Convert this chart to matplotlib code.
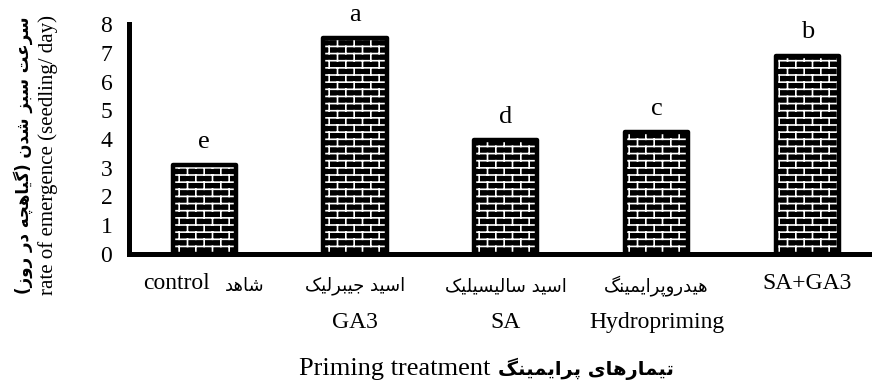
import matplotlib
matplotlib.use("Agg")

import numpy as np
import matplotlib.pyplot as plt
from matplotlib import hatch as mhatch
from matplotlib.path import Path

# ── data ──────────────────────────────────────────────────────────────────────
tick_top_en = ["control", "", "", "", "SA+GA3"]
tick_top_fa = ["شاهد", "اسید جیبرلیک", "اسید سالیسیلیک", "هیدروپرایمینگ", ""]
tick_bottom_en = ["", "GA3", "SA", "Hydropriming", ""]
emergence_rate = [3.1, 7.5, 3.95, 4.25, 6.9]
groups = ["e", "a", "d", "c", "b"]
y_ticks = [0, 1, 2, 3, 4, 5, 6, 7, 8]

ylabel_fa = "سرعت سبز شدن (گیاهچه در روز)"
ylabel_en = "rate of emergence (seedling/ day)"
xlabel_fa = "تیمارهای پرایمینگ"
xlabel_en = "Priming treatment"

SERIF = ["Liberation Serif", "DejaVu Serif"]
ARABIC = ["DejaVu Sans"]

# ── minimal Persian shaping (matplotlib 3.10 has no text shaping) ─────────────
FORMS = {
    "\u0627": "\uFE8D\uFE8E",
    "\u0628": "\uFE8F\uFE90\uFE91\uFE92",
    "\u062A": "\uFE95\uFE96\uFE97\uFE98",
    "\u062C": "\uFE9D\uFE9E\uFE9F\uFEA0",
    "\u062F": "\uFEA9\uFEAA",
    "\u0631": "\uFEAD\uFEAE",
    "\u0632": "\uFEAF\uFEB0",
    "\u0633": "\uFEB1\uFEB2\uFEB3\uFEB4",
    "\u0634": "\uFEB5\uFEB6\uFEB7\uFEB8",
    "\u0639": "\uFEC9\uFECA\uFECB\uFECC",
    "\u0644": "\uFEDD\uFEDE\uFEDF\uFEE0",
    "\u0645": "\uFEE1\uFEE2\uFEE3\uFEE4",
    "\u0646": "\uFEE5\uFEE6\uFEE7\uFEE8",
    "\u0647": "\uFEE9\uFEEA\uFEEB\uFEEC",
    "\u0648": "\uFEED\uFEEE",
    "\u067E": "\uFB56\uFB57\uFB58\uFB59",
    "\u0686": "\uFB7A\uFB7B\uFB7C\uFB7D",
    "\u06A9": "\uFB8E\uFB8F\uFB90\uFB91",
    "\u06AF": "\uFB92\uFB93\uFB94\uFB95",
    "\u06CC": "\uFBFC\uFBFD\uFBFE\uFBFF",
}


def fa(text):
    text = text.replace("\u064A", "\u06CC").replace("\u0643", "\u06A9")
    out = []
    for i, ch in enumerate(text):
        forms = FORMS.get(ch)
        if forms is None:
            out.append(ch)
            continue
        prev = text[i - 1] if i > 0 else ""
        nxt = text[i + 1] if i + 1 < len(text) else ""
        join_prev = prev in FORMS and len(FORMS[prev]) == 4
        join_next = len(forms) == 4 and nxt in FORMS
        if join_prev and join_next:
            out.append(forms[3])
        elif join_next:
            out.append(forms[2])
        elif join_prev:
            out.append(forms[1])
        else:
            out.append(forms[0])
    vis = "".join(reversed(out))
    return vis.replace("(", "\0").replace(")", "(").replace("\0", ")")


# ── brick hatch: white mortar lines on a black face ───────────────────────────
class BrickHatch(mhatch.HatchPatternBase):
    def __init__(self, hatch, density):
        self.rows = 14 if "+" in hatch else 0
        self.cols = 6
        self.num_vertices = 2 * self.rows + 2 * self.cols * (self.rows + 1) if self.rows else 0

    def set_vertices_and_codes(self, vertices, codes):
        pts = []
        for r in range(self.rows):
            y = (r + 0.5) / self.rows
            pts += [(0.0, y), (1.0, y)]
        for r in range(self.rows + 1):
            y0 = (r - 0.5) / self.rows
            y1 = (r + 0.5) / self.rows
            shift = 0.5 * (r % 2)
            for c in range(self.cols):
                xx = (c + 0.25 + shift) / self.cols
                pts += [(xx, y0), (xx, y1)]
        vertices[:] = pts
        codes[0::2] = Path.MOVETO
        codes[1::2] = Path.LINETO


mhatch._hatch_types[:] = [BrickHatch]
plt.rcParams["hatch.linewidth"] = 1.2

# ── figure ────────────────────────────────────────────────────────────────────
W, H = 872, 381
fig = plt.figure(figsize=(W / 100, H / 100), dpi=100)
ax = fig.add_axes([129 / W, 127 / H, (W - 129) / W, 230 / H])

x = np.arange(len(emergence_rate))
ax.bar(x, emergence_rate, width=0.42, color="black", edgecolor="white",
       linewidth=0, hatch="+", zorder=2)
ax.bar(x, emergence_rate, width=0.42, fill=False, edgecolor="black",
       linewidth=3.2, joinstyle="round", zorder=3)

for xi, v, g in zip(x, emergence_rate, groups):
    ax.text(xi, v + 0.6, g, ha="center", va="baseline", fontsize=19, family=SERIF)

ax.set_xlim(-0.5, 4.43)
ax.set_ylim(0, 8)
ax.set_yticks(y_ticks)
ax.set_yticklabels([str(t) for t in y_ticks], fontsize=17, family=SERIF)
ax.tick_params(axis="y", length=0, pad=12)
ax.set_xticks(x)
ax.tick_params(axis="x", length=0, labelbottom=False)

for side in ["top", "right"]:
    ax.spines[side].set_visible(False)
for side in ["left", "bottom"]:
    ax.spines[side].set_linewidth(3.6)
    ax.spines[side].set_capstyle("projecting")

# category labels: Persian / English lines
for xi, top_en, top_fa, bot_en in zip(x, tick_top_en, tick_top_fa, tick_bottom_en):
    xy = dict(xy=(xi, 0), xycoords=("data", "axes fraction"), textcoords="offset points")
    if top_en and top_fa:
        ax.annotate(top_en, xytext=(4, -21), ha="right", va="center",
                    fontsize=17, family=SERIF, **xy)
        ax.annotate(fa(top_fa), xytext=(15, -23), ha="left", va="center",
                    fontsize=13, family=ARABIC, **xy)
    elif top_fa:
        ax.annotate(fa(top_fa), xytext=(0, -23), ha="center", va="center",
                    fontsize=13, family=ARABIC, **xy)
    elif top_en:
        ax.annotate(top_en, xytext=(0, -21), ha="center", va="center",
                    fontsize=17, family=SERIF, **xy)
    if bot_en:
        ax.annotate(bot_en, xytext=(0, -49), ha="center", va="center",
                    fontsize=17, family=SERIF, **xy)

# axis titles
fig.text(490 / W, 6 / H, xlabel_en, ha="right", va="baseline",
         fontsize=19, family=SERIF)
fig.text(498 / W, 6 / H, fa(xlabel_fa), ha="left", va="baseline",
         fontsize=14, family=ARABIC, fontweight="bold")
fig.text(23 / W, 0.593, fa(ylabel_fa), rotation=90, ha="center", va="center",
         fontsize=12, family=ARABIC, fontweight="bold")
fig.text(48 / W, 0.593, ylabel_en, rotation=90, ha="center", va="center",
         fontsize=15, family=SERIF)

fig.savefig("out.png", dpi=100)
